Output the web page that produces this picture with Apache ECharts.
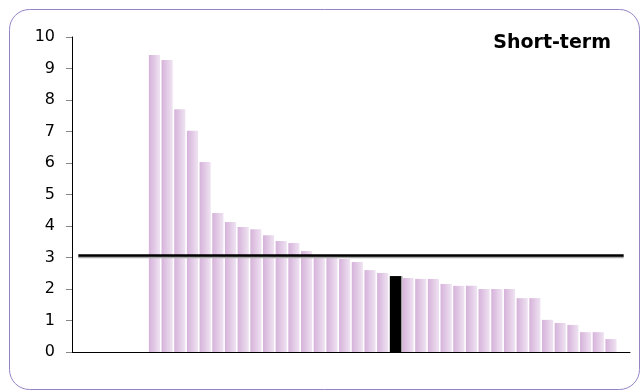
<!DOCTYPE html>
<html>
<head>
<meta charset="utf-8">
<script src="https://cdn.jsdelivr.net/npm/echarts@6/dist/echarts.min.js"></script>
<style>
  html, body { margin: 0; padding: 0; background: #fff; }
  #chart { width: 642px; height: 392px; }
</style>
</head>
<body>
<div id="chart"></div>
<script>
//--------------------Data--------------------
// 44 slots on the x axis: 6 empty before the bars, 1 empty after
let categories = ['1', '2', '3', '4', '5', '6', '7', '8', '9', '10', '11',
    '12', '13', '14', '15', '16', '17', '18', '19', '20', '21', '22',
    '23', '24', '25', '26', '27', '28', '29', '30', '31', '32', '33',
    '34', '35', '36', '37', '38', '39', '40', '41', '42', '43', '44'];
let values = [null, null, null, null, null, null,
    9.43, 9.27, 7.71, 7.02, 6.03, 4.41, 4.13, 3.97, 3.90, 3.71, 3.52, 3.46,
    3.21, 3.07, 3.04, 2.95, 2.86, 2.60, 2.51, 2.41, 2.35, 2.32, 2.32, 2.16,
    2.10, 2.10, 2.00, 2.00, 2.00, 1.71, 1.71, 1.02, 0.92, 0.86, 0.63, 0.63,
    0.41, null];
let highlight_index = 25;
let threshold = 3.06;
let y_ticks = [0, 10, 1]; // min, max, interval
let chart_title = 'Short-term';

//--------------------Init--------------------
let chart_dom = document.getElementById('chart');
let chart = echarts.init(chart_dom);

let bar_gradient = new echarts.graphic.LinearGradient(0, 0, 1, 0, [
    {offset: 0, color: '#d6b2da'},
    {offset: 1, color: '#efe3f2'}
]);

let bar_data = values.map(function (v, i) {
    if (i === highlight_index) {
        return {
            value: v,
            itemStyle: {
                color: '#000',
                shadowColor: '#999',
                shadowOffsetX: 1.5
            }
        };
    }
    return v;
});

//---------------------Series---------------------
let bar_series = {
    type: 'bar',
    data: bar_data,
    barCategoryGap: '12%',
    itemStyle: {color: bar_gradient},
    silent: true,
    markLine: {
        symbol: 'none',
        silent: true,
        label: {show: false},
        lineStyle: {
            color: '#000',
            width: 2.5,
            type: 'solid',
            shadowColor: '#aaa',
            shadowOffsetY: 1.5
        },
        data: [[
            {xAxis: categories[0], yAxis: threshold},
            {xAxis: categories[categories.length - 1], yAxis: threshold}
        ]]
    }
};

//------------------Generate Graph------------------
let chart_option = {
    backgroundColor: '#fff',
    animation: false,
    title: {
        text: chart_title,
        right: 26,
        top: 29,
        textStyle: {
            fontFamily: 'DejaVu Sans',
            fontWeight: 'bold',
            fontSize: 19,
            color: '#000'
        }
    },
    grid: {left: 72, right: 12, top: 37, bottom: 40},
    xAxis: {
        type: 'category',
        data: categories,
        axisLine: {lineStyle: {color: '#000', width: 1}},
        axisTick: {show: false},
        axisLabel: {show: false},
        splitLine: {show: false}
    },
    yAxis: {
        type: 'value',
        min: y_ticks[0],
        max: y_ticks[1],
        interval: y_ticks[2],
        axisLine: {show: true, lineStyle: {color: '#000', width: 1}},
        axisTick: {show: true, length: 6, lineStyle: {color: '#888'}},
        axisLabel: {
            fontFamily: 'DejaVu Sans',
            fontSize: 16,
            color: '#000',
            margin: 17
        },
        splitLine: {show: false}
    },
    graphic: [{
        type: 'rect',
        left: 7,
        top: 7,
        z: -10,
        shape: {width: 630, height: 380, r: 20},
        style: {fill: 'none', stroke: '#9484c4', lineWidth: 1}
    }],
    series: [bar_series]
};
if (chart_option && typeof chart_option === 'object') {
    chart.setOption(chart_option, true);
}
</script>
</body>
</html>
